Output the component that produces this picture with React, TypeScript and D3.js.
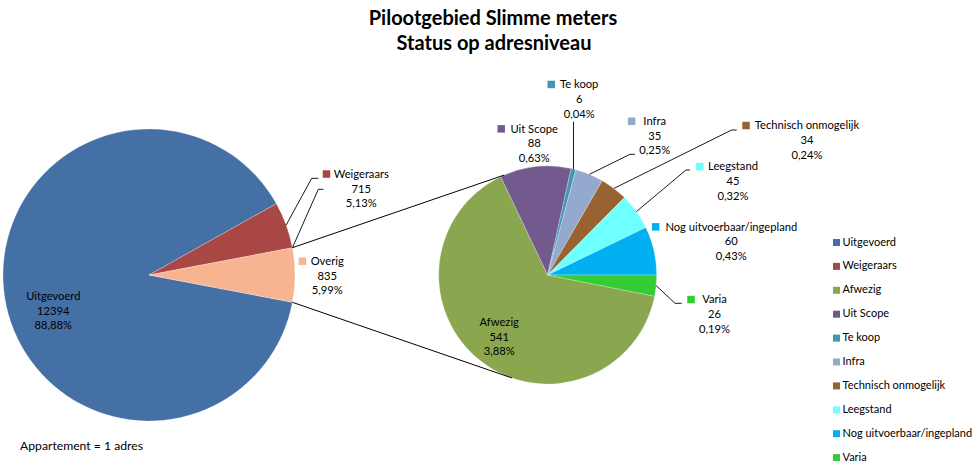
import React, { useEffect, useRef } from "react";
import * as d3 from "d3";

const W = 976;
const H = 464;

const titleLines = ["Pilootgebied Slimme meters", "Status op adresniveau"];
const noteText = "Appartement = 1 adres";

const mainCategories = ["Uitgevoerd", "Weigeraars", "Overig"];
const mainValues = [12394, 715, 835];
const mainColors = ["#4570A6", "#A94744", "#F8B490"];

const subCategories = ["Afwezig", "Uit Scope", "Te koop", "Infra", "Technisch onmogelijk", "Leegstand", "Nog uitvoerbaar/ingepland", "Varia"];
const subValues = [541, 88, 6, 35, 34, 45, 60, 26];
const subColors = ["#8AA64F", "#735A8E", "#4298AF", "#94A9CE", "#986330", "#6EFFFF", "#00B0F0", "#33CC33"];

const legendCategories = ["Uitgevoerd", "Weigeraars", "Afwezig", "Uit Scope", "Te koop", "Infra", "Technisch onmogelijk", "Leegstand", "Nog uitvoerbaar/ingepland", "Varia"];

// label layout: center of name text, baseline of first line, gap between key and name
type LabelPos = { cx: number; y: number; key: boolean; gap: number };
const labelLayout: Record<string, LabelPos> = {
  Uitgevoerd: { cx: 53.3, y: 300, key: false, gap: 0 },
  Weigeraars: { cx: 361.3, y: 177.8, key: true, gap: 3.5 },
  Overig: { cx: 327.2, y: 265, key: true, gap: 4.5 },
  Afwezig: { cx: 499.2, y: 326, key: false, gap: 0 },
  "Uit Scope": { cx: 534.2, y: 132.6, key: true, gap: 5.5 },
  "Te koop": { cx: 579.2, y: 88.2, key: true, gap: 5 },
  Infra: { cx: 654.7, y: 125, key: true, gap: 8 },
  "Technisch onmogelijk": { cx: 807, y: 129.3, key: true, gap: 5 },
  Leegstand: { cx: 733, y: 170.3, key: true, gap: 4.5 },
  "Nog uitvoerbaar/ingepland": { cx: 731.3, y: 230.6, key: true, gap: 6 },
  Varia: { cx: 714.5, y: 303.3, key: true, gap: 7.4 },
};

// leader lines: from slice (at given angle fraction of the slice) to elbow and end
type Leader = { pie: "main" | "sub"; name: string; frac: number; ex: number; ey: number; ex2: number };
const leaders: Leader[] = [
  { pie: "main", name: "Weigeraars", frac: 0.5, ex: 311.7, ey: 178.3, ex2: 318.3 },
  { pie: "main", name: "Overig", frac: 0, ex: 318.3, ey: 189.3, ex2: 323.3 },
  { pie: "sub", name: "Te koop", frac: 0.5, ex: 0, ey: 121.7, ex2: 0 },
  { pie: "sub", name: "Infra", frac: 0.5, ex: 630, ey: 154.3, ex2: 635 },
  { pie: "sub", name: "Technisch onmogelijk", frac: 0.5, ex: 731.7, ey: 130, ex2: 736.7 },
  { pie: "sub", name: "Leegstand", frac: 0.5, ex: 686, ey: 170, ex2: 690 },
  { pie: "sub", name: "Varia", frac: 0.5, ex: 675, ey: 303.3, ex2: 681.7 },
];

const FONT = "Lato, 'Open Sans', sans-serif";
const LABEL_SIZE = 11.2;
const LEGEND_SIZE = 11;

export default function App() {
  const ref = useRef<SVGSVGElement>(null);

  useEffect(() => {
    const svg = d3.select(ref.current);
    svg.selectAll("*").remove();

    const mainC = { x: 149, y: 275, r: 146 };
    const subC = { x: 547.7, y: 275, r: 109 };

    const mainTotal = d3.sum(mainValues);
    const subTotal = d3.sum(subValues);
    const pct = (v: number) => d3.format(".2f")((v / mainTotal) * 100).replace(".", ",") + "%";

    const overigShare = mainValues[mainValues.length - 1] / mainTotal;
    const mainStart = Math.PI / 2 + overigShare * Math.PI;
    const variaShare = subValues[subValues.length - 1] / subTotal;
    const subStart = Math.PI / 2 + variaShare * 2 * Math.PI;

    const mainPie = d3.pie<number>().sort(null).startAngle(mainStart).endAngle(mainStart + 2 * Math.PI);
    const subPie = d3.pie<number>().sort(null).startAngle(subStart).endAngle(subStart + 2 * Math.PI);
    const mainArcs = mainPie(mainValues);
    const subArcs = subPie(subValues);

    const mainArc = d3.arc<d3.PieArcDatum<number>>().innerRadius(0).outerRadius(mainC.r);
    const subArc = d3.arc<d3.PieArcDatum<number>>().innerRadius(0).outerRadius(subC.r);

    // title
    const t = svg.append("g").attr("font-family", FONT).attr("font-weight", "bold").attr("font-size", 20).attr("text-anchor", "middle");
    t.append("text").attr("x", 493).attr("y", 24.5).text(titleLines[0]);
    t.append("text").attr("x", 494).attr("y", 49.5).text(titleLines[1]);

    // pies
    svg.append("g").attr("transform", `translate(${mainC.x},${mainC.y})`)
      .selectAll("path").data(mainArcs).join("path")
      .attr("d", (d) => mainArc(d) as string)
      .attr("fill", (_, i) => mainColors[i])
      .attr("stroke", "#ffffff").attr("stroke-width", 0.5).attr("stroke-opacity", 0.5);

    svg.append("g").attr("transform", `translate(${subC.x},${subC.y})`)
      .selectAll("path").data(subArcs).join("path")
      .attr("d", (d) => subArc(d) as string)
      .attr("fill", (_, i) => subColors[i])
      .attr("stroke", "#ffffff").attr("stroke-width", 0.5).attr("stroke-opacity", 0.5);

    const pt = (c: { x: number; y: number; r: number }, a: number): [number, number] => [c.x + c.r * Math.sin(a), c.y - c.r * Math.cos(a)];

    // connector lines between pies
    const ov = mainArcs[mainArcs.length - 1];
    const connTopAngle = (336.4 * Math.PI) / 180;
    const connBotAngle = (199.2 * Math.PI) / 180;
    const lines = svg.append("g").attr("stroke", "#000").attr("stroke-width", 1).attr("fill", "none");
    const p1 = pt(mainC, ov.startAngle);
    const p2 = pt(subC, connTopAngle);
    const p3 = pt(mainC, ov.endAngle);
    const p4 = pt(subC, connBotAngle);
    lines.append("line").attr("x1", p1[0]).attr("y1", p1[1]).attr("x2", p2[0]).attr("y2", p2[1]);
    lines.append("line").attr("x1", p3[0]).attr("y1", p3[1]).attr("x2", p4[0]).attr("y2", p4[1]);

    // leaders
    leaders.forEach((l) => {
      const arcs = l.pie === "main" ? mainArcs : subArcs;
      const cats = l.pie === "main" ? mainCategories : subCategories;
      const c = l.pie === "main" ? mainC : subC;
      const d = arcs[cats.indexOf(l.name)];
      const a = d.startAngle + (d.endAngle - d.startAngle) * l.frac;
      const s = pt(c, a);
      let pts: [number, number][];
      if (l.ex === 0) pts = [s, [s[0], l.ey]];
      else pts = [s, [l.ex, l.ey], [l.ex2, l.ey]];
      lines.append("path").attr("d", d3.line()(pts) as string).attr("stroke-width", 0.9);
    });

    // data labels
    const lg = svg.append("g").attr("font-family", FONT).attr("font-size", LABEL_SIZE).attr("fill", "#000");
    const drawLabel = (name: string, value: number, color: string) => {
      const p = labelLayout[name];
      if (!p) return;
      const nt = lg.append("text").attr("x", p.cx).attr("y", p.y).attr("text-anchor", "middle").text(name);
      lg.append("text").attr("x", p.cx).attr("y", p.y + 14.7).attr("text-anchor", "middle").text(String(value));
      lg.append("text").attr("x", p.cx).attr("y", p.y + 29.4).attr("text-anchor", "middle").text(pct(value));
      if (p.key) {
        const w = (nt.node() as SVGTextElement).getComputedTextLength();
        const s = 7.5;
        lg.append("rect").attr("x", p.cx - w / 2 - p.gap - s).attr("y", p.y - s).attr("width", s).attr("height", s).attr("fill", color);
      }
    };
    mainCategories.forEach((n, i) => drawLabel(n, mainValues[i], mainColors[i]));
    subCategories.forEach((n, i) => drawLabel(n, subValues[i], subColors[i]));

    // legend
    const colorOf = (n: string) => {
      const i = mainCategories.indexOf(n);
      if (i >= 0) return mainColors[i];
      return subColors[subCategories.indexOf(n)];
    };
    const leg = svg.append("g").attr("font-family", FONT).attr("font-size", LEGEND_SIZE).attr("fill", "#000");
    legendCategories.forEach((n, i) => {
      const y = 245.5 + i * 23.9;
      leg.append("rect").attr("x", 833).attr("y", y - 6.5).attr("width", 7).attr("height", 7).attr("fill", colorOf(n));
      leg.append("text").attr("x", 842.5).attr("y", y).text(n);
    });

    // note
    svg.append("text").attr("x", 20).attr("y", 449.5).attr("font-family", FONT).attr("font-size", 12.2).attr("fill", "#000").text(noteText);
  }, []);

  return (
    <div style={{ position: "absolute", left: 0, top: 0 }}>
      <svg ref={ref} width={W} height={H} style={{ display: "block", background: "#fff" }} />
    </div>
  );
}
